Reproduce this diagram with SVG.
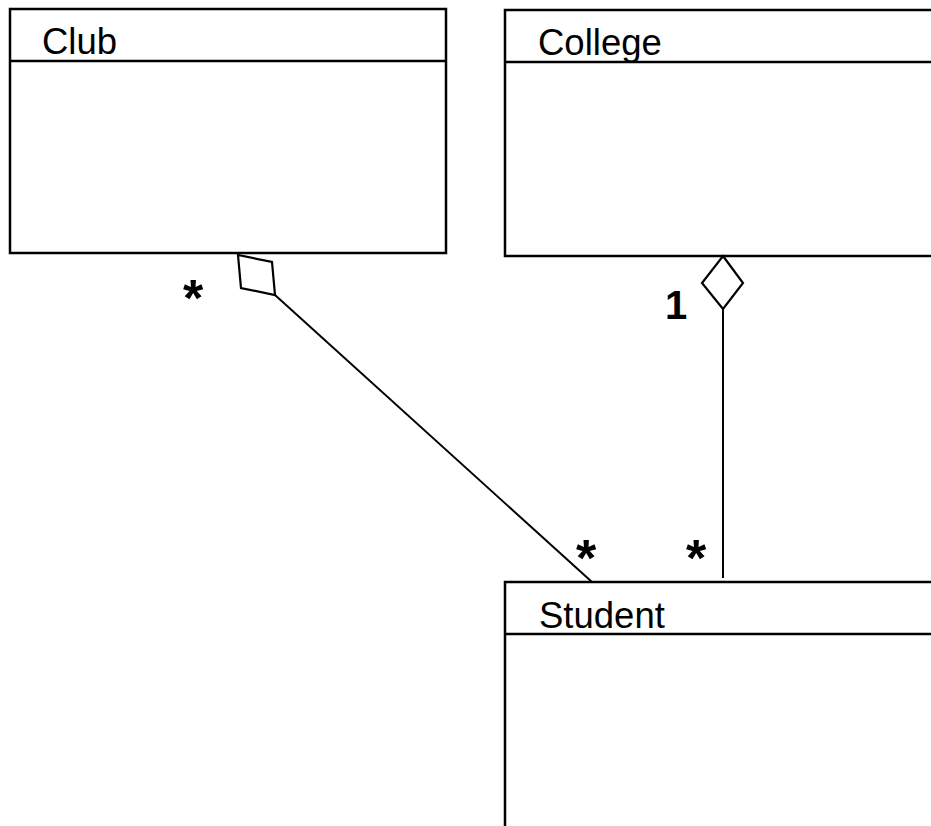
<svg xmlns="http://www.w3.org/2000/svg" width="931" height="826" viewBox="0 0 931 826">
  <style>
    .box { fill: #ffffff; stroke: #000000; stroke-width: 2.5; }
    .div { stroke: #000000; stroke-width: 2.5; }
    .name { font-family: "Liberation Sans", Arial, sans-serif; font-size: 36.5px; fill: #000000; }
    .mult { font-family: "Liberation Sans", Arial, sans-serif; font-weight: bold; fill: #000000; text-anchor: middle; }
    .star { font-size: 52px; }
    .one { font-size: 40px; }
    .edge { fill: none; stroke: #000000; stroke-width: 2; }
    .diamond { fill: #ffffff; stroke: #000000; stroke-width: 2.2; stroke-linejoin: miter; }
  </style>
  <rect width="931" height="826" fill="#ffffff"/>

  <!-- classes -->
  <g id="club">
    <rect class="box" x="10" y="9" width="436" height="244"/>
    <line class="div" x1="10" y1="61" x2="446" y2="61"/>
    <text class="name" x="42" y="54">Club</text>
  </g>
  <g id="college">
    <rect class="box" x="505" y="10" width="500" height="246"/>
    <line class="div" x1="505" y1="62" x2="1005" y2="62"/>
    <text class="name" x="538" y="55">College</text>
  </g>
  <g id="student">
    <rect class="box" x="505" y="582" width="500" height="300"/>
    <line class="div" x1="505" y1="634" x2="1005" y2="634"/>
    <text class="name" x="539" y="628">Student</text>
  </g>

  <!-- associations -->
  <g id="connectors">
    <line class="edge" x1="275" y1="295" x2="592" y2="582"/>
    <polygon class="diamond" points="238,255 272,262 275,295 241,288"/>
    <line class="edge" x1="723" y1="309" x2="723" y2="578"/>
    <polygon class="diamond" points="723,256 743,283 723,309 702,283"/>
    <text class="mult star" x="193" y="316">*</text>
    <text class="mult star" x="586" y="576">*</text>
    <text class="mult star" x="696" y="576">*</text>
    <text class="mult one" x="676" y="319">1</text>
  </g>
</svg>
